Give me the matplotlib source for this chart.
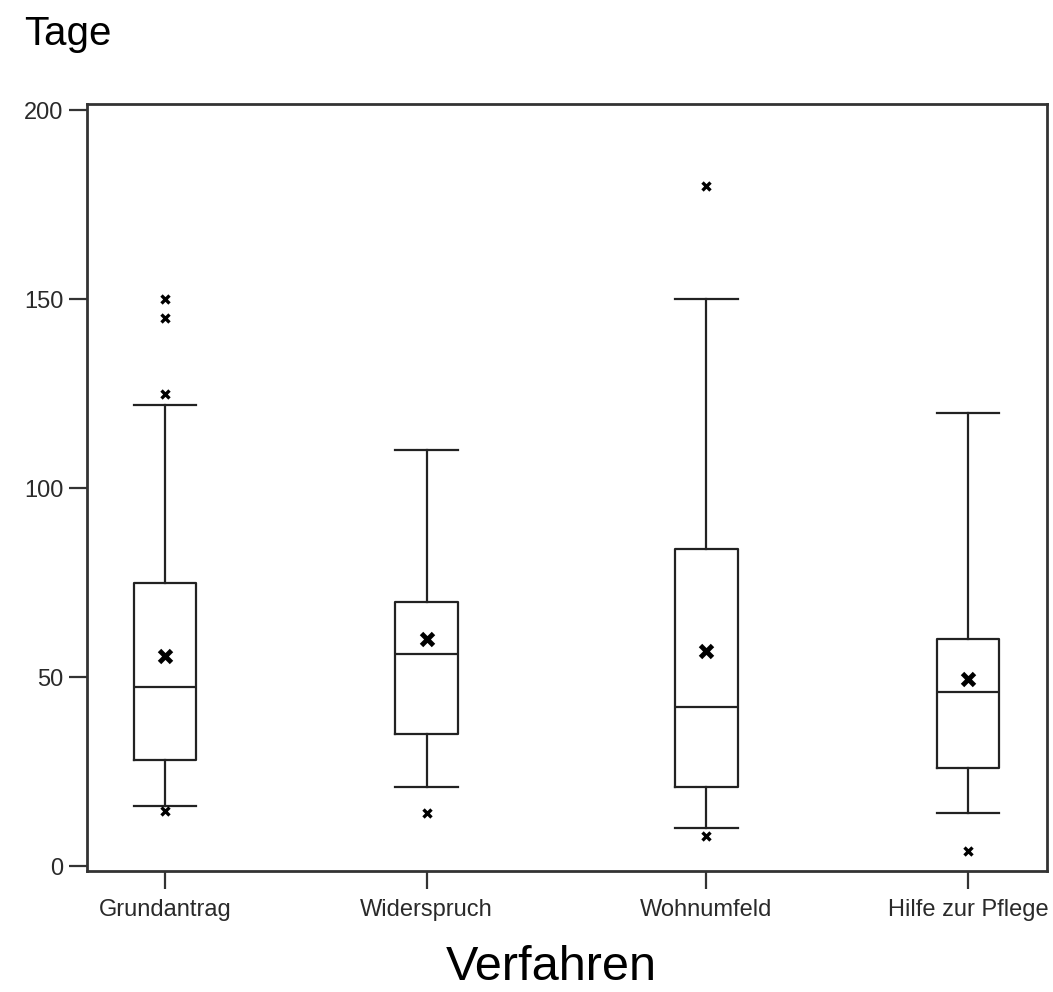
import matplotlib
matplotlib.use('Agg')
import matplotlib.pyplot as plt

plt.rcParams['font.family'] = ['Liberation Sans', 'DejaVu Sans']

# values (Tage)
categories = ['Grundantrag', 'Widerspruch', 'Wohnumfeld', 'Hilfe zur Pflege']
whisker_low = [16, 21, 10, 14]
q1 = [28, 35, 21, 26]
median = [47.5, 56, 42, 46]
q3 = [75, 70, 84, 60]
whisker_high = [122, 110, 150, 120]
means = [55.5, 60, 57, 49.5]
outliers = [[150, 145, 125, 14.5], [14], [180, 8], [4]]

positions = [1, 2, 3.07, 4.07]

stats = []
for i in range(len(categories)):
    stats.append({
        'label': categories[i],
        'whislo': whisker_low[i],
        'q1': q1[i],
        'med': median[i],
        'q3': q3[i],
        'whishi': whisker_high[i],
        'fliers': outliers[i],
    })

fig = plt.figure(figsize=(10.53, 9.92), dpi=100)
ax = fig.add_axes([0.0826, 0.122, 0.9117, 0.773])

lw = 1.6
ax.bxp(stats, positions=positions, widths=0.24, showfliers=True,
       boxprops=dict(color='#222222', linewidth=lw),
       medianprops=dict(color='#222222', linewidth=lw),
       whiskerprops=dict(color='#222222', linewidth=lw),
       capprops=dict(color='#222222', linewidth=lw),
       capwidths=0.24,
       flierprops=dict(marker='x', markersize=6, markeredgewidth=2.4,
                       markeredgecolor='black', linestyle='none'))

ax.plot(positions, means, linestyle='none', marker='x', markersize=9,
        markeredgewidth=3.5, color='black', zorder=5)

ax.set_xlim(0.702, 4.372)
ax.set_ylim(-1.3, 201.6)
ax.set_yticks([0, 50, 100, 150, 200])
ax.set_xticks(positions)
ax.set_xticklabels(categories)

for s in ['left', 'right', 'top', 'bottom']:
    ax.spines[s].set_linewidth(2)
    ax.spines[s].set_color('#333333')

ax.tick_params(axis='both', direction='out', length=13, width=1.6,
               color='#333333', labelsize=17, labelcolor='#2a2a2a')
ax.tick_params(axis='x', pad=7)
ax.tick_params(axis='y', pad=4)

fig.text(0.023, 0.955, 'Tage', fontsize=29, color='black', va='baseline')
fig.text(0.524, 0.002, 'Verfahren', fontsize=35, color='black',
         ha='center', va='bottom')

fig.savefig('out.png', dpi=100)
